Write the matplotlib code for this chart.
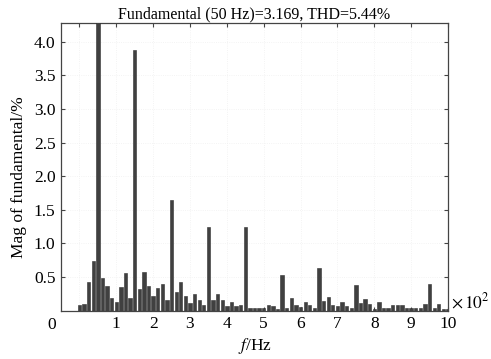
import numpy as np
import matplotlib
matplotlib.use("Agg")
import matplotlib.pyplot as plt

# Spectrum bins (12.5 Hz resolution), 0 .. 1000 Hz
freq_hz = np.arange(81) * 12.5
mag_pct = [0.08, 0.10, 0.43, 0.74, 100.0, 0.49, 0.37, 0.19, 0.13, 0.35,
           0.56, 0.19, 3.88, 0.32, 0.57, 0.37, 0.22, 0.34, 0.39, 0.15,
           1.65, 0.28, 0.42, 0.21, 0.11, 0.24, 0.16, 0.08, 1.25, 0.16,
           0.25, 0.16, 0.07, 0.13, 0.07, 0.08, 1.25, 0.04, 0.04, 0.04,
           0.04, 0.08, 0.06, 0.02, 0.53, 0.03, 0.18, 0.08, 0.05, 0.13,
           0.08, 0.03, 0.63, 0.14, 0.20, 0.08, 0.07, 0.12, 0.07, 0.03,
           0.38, 0.11, 0.17, 0.10, 0.02, 0.12, 0.04, 0.04, 0.08, 0.08,
           0.08, 0.04, 0.04, 0.04, 0.04, 0.09, 0.39, 0.04, 0.09, 0.02,
           0.02]
x_ticks = [1, 2, 3, 4, 5, 6, 7, 8, 9, 10]
x_ticklabels = ["1", "2", "3", "4", "5", "6", "7", "8", "9", "10"]
y_ticks = [0.5, 1.0, 1.5, 2.0, 2.5, 3.0, 3.5, 4.0]
y_ticklabels = ["0.5", "1.0", "1.5", "2.0", "2.5", "3.0", "3.5", "4.0"]
title = "Fundamental (50 Hz)=3.169, THD=5.44%"

plt.rcParams['font.family'] = ['Liberation Serif', 'DejaVu Serif']
plt.rcParams['mathtext.fontset'] = 'stix'

fig = plt.figure(figsize=(4.91, 3.59), dpi=100)
ax = fig.add_axes([61/491, 1 - 310.5/359, (448-61)/491, (310.5-23)/359])

x = freq_hz / 100.0
ax.bar(x, mag_pct, width=0.09, color='#404040', edgecolor='#303030', linewidth=0.4, zorder=3)

ax.set_xlim(-0.5, 10.0)
ax.set_ylim(0, 4.28)
ax.set_xticks([0] + x_ticks)
ax.set_xticklabels([""] + x_ticklabels, fontsize=12.5)
ax.set_yticks(y_ticks)
ax.set_yticklabels(y_ticklabels, fontsize=12.5)
ax.tick_params(direction='in', length=3, width=0.8, color='#444444',
               top=True, right=True, pad=4)
for s in ax.spines.values():
    s.set_color('#444444')
    s.set_linewidth(0.9)
ax.grid(True, linestyle=':', color='#f0f0f0', linewidth=0.6, zorder=0)

ax.set_title(title, fontsize=11.5, pad=3)
ax.set_ylabel("Mag of fundamental/%", fontsize=12.5)
ax.yaxis.set_label_coords(-0.115 + 0.028, 0.465)
ax.set_xlabel("$f$/Hz", fontsize=12.5, labelpad=3)

fig.text(52/491, 1 - 325/359, "0", fontsize=12.5, ha='center', va='center')
fig.text(451/491, 1 - 302/359, r"$\times\,10^2$", fontsize=12.5, ha='left', va='center')

fig.savefig("out.png", dpi=100)
